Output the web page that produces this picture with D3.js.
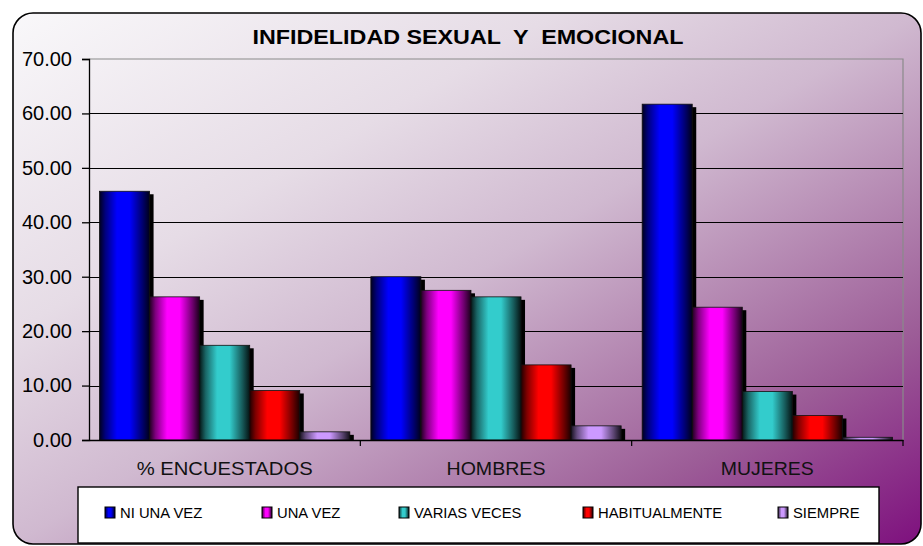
<!DOCTYPE html>
<html>
<head>
<meta charset="utf-8">
<script src="https://cdn.jsdelivr.net/npm/d3@7"></script>
<style>
  html, body { margin: 0; padding: 0; background: #ffffff; }
  svg { display: block; font-family: Arial, "Liberation Sans", sans-serif; }
</style>
</head>
<body>
<svg id="chart" width="923" height="546"></svg>
<script>
const categories = ["% ENCUESTADOS", "HOMBRES", "MUJERES"];
const seriesNames = ["NI UNA VEZ", "UNA VEZ", "VARIAS VECES", "HABITUALMENTE", "SIEMPRE"];
const niUnaVez = [45.7, 30.0, 61.7];
const unaVez = [26.3, 27.5, 24.4];
const variasVeces = [17.4, 26.3, 8.9];
const habitualmente = [9.1, 13.8, 4.5];
const siempre = [1.5, 2.6, 0.5];
const yTicks = [0, 10, 20, 30, 40, 50, 60, 70];
const seriesColors = ["#0000ff", "#ff00ff", "#33cccc", "#ff0000", "#cc99ff"];
const title = "INFIDELIDAD SEXUAL  Y  EMOCIONAL";

const seriesValues = [niUnaVez, unaVez, variasVeces, habitualmente, siempre];
const categoryLabelWidths = [176, 99, 93];

const svg = d3.select("#chart");
const defs = svg.append("defs");

// background gradient
const bg = defs.append("linearGradient").attr("id", "bg")
  .attr("x1", 0).attr("y1", 0).attr("x2", 1).attr("y2", 1);
[[0, "#f9f8fa"], [0.3, "#e6dce6"], [0.5, "#d0b9d0"], [0.8, "#9c5c97"], [1, "#7e107e"]]
  .forEach(([o, c]) => bg.append("stop").attr("offset", o).attr("stop-color", c));

// cylinder gradients for bars
function shade(c, k) { const col = d3.rgb(c); return d3.rgb(col.r * k, col.g * k, col.b * k).formatHex(); }
seriesColors.forEach((c, i) => {
  const g = defs.append("linearGradient").attr("id", "bar" + i)
    .attr("x1", 0).attr("y1", 0).attr("x2", 1).attr("y2", 0);
  g.append("stop").attr("offset", 0).attr("stop-color", shade(c, 0.12));
  g.append("stop").attr("offset", 0.12).attr("stop-color", shade(c, 0.5));
  g.append("stop").attr("offset", 0.35).attr("stop-color", c);
  g.append("stop").attr("offset", 0.6).attr("stop-color", c);
  g.append("stop").attr("offset", 0.85).attr("stop-color", shade(c, 0.45));
  g.append("stop").attr("offset", 1).attr("stop-color", shade(c, 0.1));
});

// chart area
svg.append("rect")
  .attr("x", 13).attr("y", 13).attr("width", 908).attr("height", 531)
  .attr("rx", 20).attr("ry", 20)
  .attr("fill", "url(#bg)").attr("stroke", "#000").attr("stroke-width", 1.6);

const plot = { left: 89, right: 903, top: 59, bottom: 440 };

const y = d3.scaleLinear().domain([0, 70]).range([plot.bottom, plot.top]);
const x0 = d3.scaleBand().domain(categories).range([plot.left, plot.right]).paddingInner(0).paddingOuter(0);
const x1 = d3.scaleBand().domain(seriesNames).range([0, x0.bandwidth()]).paddingInner(0).paddingOuter(0.21);

// plot border (top & right gray)
svg.append("path")
  .attr("d", `M${plot.left},${plot.top}H${plot.right}V${plot.bottom}`)
  .attr("fill", "none").attr("stroke", "#8a8a8a").attr("stroke-width", 1.2);

// gridlines
svg.append("g").selectAll("line").data(yTicks.filter(t => t > 0 && t < 70)).join("line")
  .attr("x1", plot.left).attr("x2", plot.right)
  .attr("y1", d => Math.round(y(d)) + 0.5).attr("y2", d => Math.round(y(d)) + 0.5)
  .attr("stroke", "#000").attr("stroke-width", 1.2);

// bars
const gGroups = svg.append("g").selectAll("g").data(categories).join("g")
  .attr("transform", d => `translate(${x0(d)},0)`);

gGroups.each(function (cat, ci) {
  const g = d3.select(this);
  seriesNames.forEach((s, si) => {
    const v = seriesValues[si][ci];
    const bx = x1(s), bw = x1.bandwidth();
    const top = y(v), h = y(0) - y(v);
    g.append("rect")
      .attr("x", bx + 4).attr("y", top + 3)
      .attr("width", bw).attr("height", Math.max(0, h - 3))
      .attr("fill", "#000");
  });
  seriesNames.forEach((s, si) => {
    const v = seriesValues[si][ci];
    const bx = x1(s), bw = x1.bandwidth();
    g.append("rect")
      .attr("x", bx).attr("y", y(v))
      .attr("width", bw).attr("height", y(0) - y(v))
      .attr("fill", `url(#bar${si})`)
      .attr("stroke", "#111").attr("stroke-width", 0.8);
  });
});

// y axis
const yAxis = d3.axisLeft(y).tickValues(yTicks).tickSize(7).tickPadding(10)
  .tickFormat(d3.format(".2f"));
const ya = svg.append("g").attr("transform", `translate(${plot.left},0)`).call(yAxis);
ya.select(".domain").attr("stroke", "#000").attr("stroke-width", 1.3);
ya.selectAll(".tick line").attr("stroke", "#000").attr("stroke-width", 1.3);
ya.selectAll(".tick text").attr("fill", "#000").style("font-size", "20px")
  .style("font-family", "Arial, 'Liberation Sans', sans-serif");

// x axis
const xAxis = d3.axisBottom(x0).tickSize(0).tickPadding(22);
const xa = svg.append("g").attr("transform", `translate(0,${plot.bottom})`).call(xAxis);
xa.select(".domain").attr("stroke", "#000").attr("stroke-width", 1.3);
xa.selectAll(".tick text").attr("fill", "#111").style("font-size", "19px")
  .style("font-family", "Arial, 'Liberation Sans', sans-serif")
  .attr("textLength", (d, i) => categoryLabelWidths[i])
  .attr("lengthAdjust", "spacingAndGlyphs");
// category boundary ticks
svg.append("g").selectAll("line").data(categories.slice(1).concat(["__end"])).join("line")
  .attr("x1", d => d === "__end" ? plot.right : x0(d))
  .attr("x2", d => d === "__end" ? plot.right : x0(d))
  .attr("y1", plot.bottom).attr("y2", plot.bottom + 6)
  .attr("stroke", "#000").attr("stroke-width", 1.2);

// title
svg.append("text")
  .attr("x", 468).attr("y", 44)
  .attr("text-anchor", "middle")
  .style("font-size", "20px").style("font-weight", "bold")
  .attr("fill", "#000")
  .attr("xml:space", "preserve")
  .style("white-space", "pre")
  .attr("textLength", 431)
  .attr("lengthAdjust", "spacingAndGlyphs")
  .text(title);

// legend
svg.append("rect")
  .attr("x", 78).attr("y", 487).attr("width", 801).attr("height", 56)
  .attr("fill", "#fff").attr("stroke", "#000").attr("stroke-width", 1.4);

const legendPos = [105, 262, 399, 583, 778];
const lg = svg.append("g").selectAll("g").data(seriesNames).join("g")
  .attr("transform", (d, i) => `translate(${legendPos[i]},507)`);
lg.append("rect").attr("width", 10).attr("height", 11)
  .attr("fill", (d, i) => `url(#bar${i})`).attr("stroke", "#000").attr("stroke-width", 1);
lg.append("text").attr("x", 15).attr("y", 11)
  .style("font-size", "14.8px").attr("fill", "#000")
  .text(d => d);
</script>
</body>
</html>
